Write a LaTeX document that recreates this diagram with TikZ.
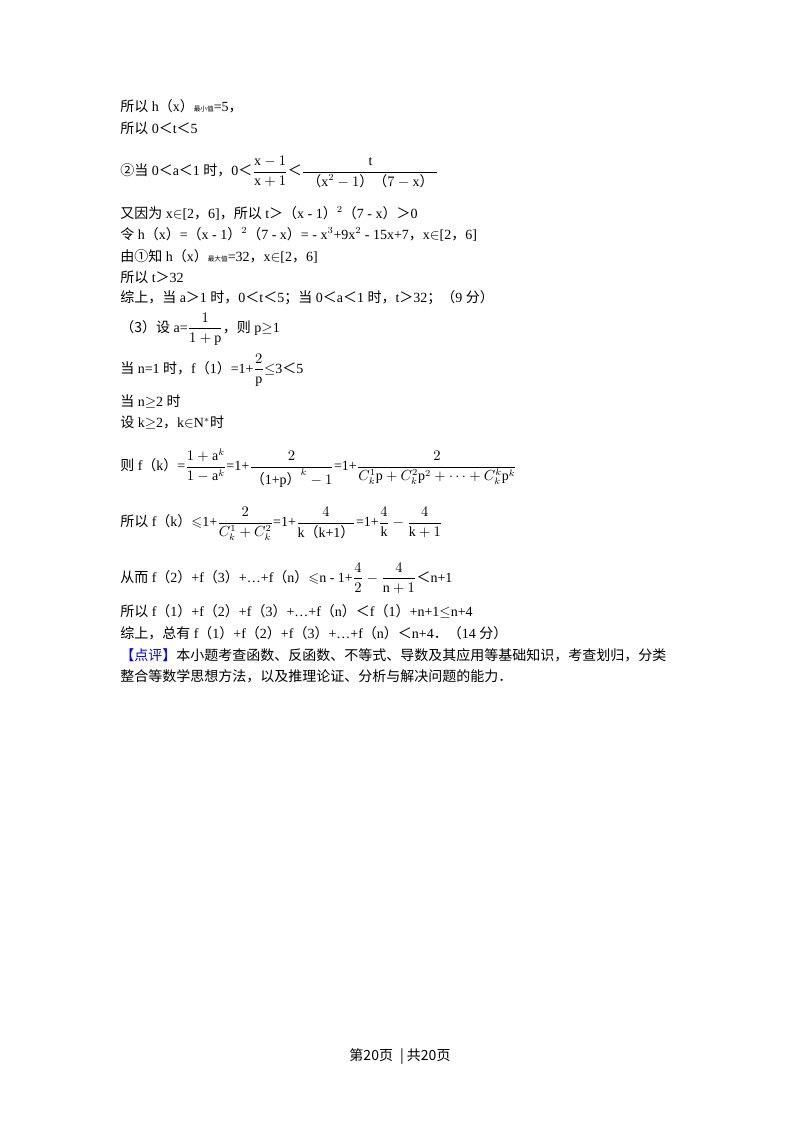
\documentclass[tikz,border=0pt]{standalone}
\usepackage{fontspec}
\usepackage{amsmath,amssymb}
\setmainfont{Liberation Serif}
\newfontfamily\cjk{Noto Sans CJK SC}
\newcommand{\C}[1]{{\cjk #1}}
\newcommand{\Cs}[1]{{\cjk\tiny #1}}
\begin{document}
\begin{tikzpicture}[x=0.75pt,y=-0.75pt,
  ln/.style={anchor=west,inner sep=0pt,font=\fontsize{10.5pt}{12pt}\selectfont}]
\useasboundingbox (0,0) rectangle (800,1132);
\fill[white] (0,0) rectangle (800,1132);
\node[ln] (l1) at (120,106) {\C{所以} h\C{（}x\C{）}\Cs{最小值}=5\C{，}};
\node[ln] (l2) at (120,128) {\C{所以} 0\C{＜}t\C{＜}5};
\node[ln] (l3) at (120,172) {\C{②当} 0\C{＜}a\C{＜}1 \C{时，}0\C{＜}$\dfrac{\mathrm{x}-1}{\mathrm{x}+1}$\C{＜}$\dfrac{\mathrm{t}}{\hbox{\;\C{（}$\mathrm{x}^2-1$\C{）（}$7-\mathrm{x}$\C{）}\;}}$};
\node[ln] (l4) at (120,213) {\C{又因为} x$\in$[2\C{，}6]\C{，所以} t\C{＞（}x - 1\C{）}$^2$\C{（}7 - x\C{）＞}0};
\node[ln] (l5) at (120,234) {\C{令} h\C{（}x\C{）}=\C{（}x - 1\C{）}$^2$\C{（}7 - x\C{）}= - x$^3$+9x$^2$ - 15x+7\C{，}x$\in$[2\C{，}6]};
\node[ln] (l6) at (120,256) {\C{由①知} h\C{（}x\C{）}\Cs{最大值}=32\C{，}x$\in$[2\C{，}6]};
\node[ln] (l7) at (120,277) {\C{所以} t\C{＞}32};
\node[ln] (l8) at (120,298) {\C{综上，当} a\C{＞}1 \C{时，}0\C{＜}t\C{＜}5\C{；当} 0\C{＜}a\C{＜}1 \C{时，}t\C{＞}32\C{；（}9 \C{分）}};
\node[ln] (l9) at (120,329) {\C{（3）设} a=$\dfrac{1}{1+\mathrm{p}}$\C{，则} p$\geq$1};
\node[ln] (l10) at (120,370) {\C{当} n=1 \C{时，}f\C{（}1\C{）}=1+$\dfrac{2}{\mathrm{p}}$$\leq$3\C{＜}5};
\node[ln] (l11) at (120,402) {\C{当} n$\geq$2 \C{时}};
\node[ln] (l12) at (120,423) {\C{设} k$\geq$2\C{，}k$\in$N$^*$\C{时}};
\node[ln] (l13) at (120,468) {\C{则} f\C{（}k\C{）}=$\dfrac{1+\mathrm{a}^k}{1-\mathrm{a}^k}$=1+$\dfrac{2}{\hbox{\C{（}1+p\C{）}}^{k}-1}$=1+$\dfrac{2}{C_k^1\mathrm{p}+C_k^2\mathrm{p}^2+\cdots+C_k^k\mathrm{p}^k}$};
\node[ln] (l14) at (120,524) {\C{所以} f\C{（}k\C{）}$\leqslant$1+$\dfrac{2}{C_k^1+C_k^2}$=1+$\dfrac{4}{\hbox{k\C{（}k+1\C{）}}}$=1+$\dfrac{4}{\mathrm{k}}-\dfrac{4}{\mathrm{k}+1}$};
\node[ln] (l15) at (120,578) {\C{从而} f\C{（}2\C{）}+f\C{（}3\C{）}+…+f\C{（}n\C{）}$\leqslant$n - 1+$\dfrac{4}{2}-\dfrac{4}{\mathrm{n}+1}$\C{＜}n+1};
\node[ln] (l16) at (120,611) {\C{所以} f\C{（}1\C{）}+f\C{（}2\C{）}+f\C{（}3\C{）}+…+f\C{（}n\C{）＜}f\C{（}1\C{）}+n+1$\leq$n+4};
\node[ln] (l17) at (120,633) {\C{综上，总有} f\C{（}1\C{）}+f\C{（}2\C{）}+f\C{（}3\C{）}+…+f\C{（}n\C{）＜}n+4\C{．（}14 \C{分）}};
\node[ln] (l18) at (120,655) {\textcolor{blue}{\C{【点评】}}\C{本小题考查函数、反函数、不等式、导数及其应用等基础知识，考查划归，分类}};
\node[ln] (l19) at (120,676) {\C{整合等数学思想方法，以及推理论证、分析与解决问题的能力．}};
\node[ln,anchor=center] (ft) at (400,1057) {\C{第20页\; | 共20页}};
\end{tikzpicture}
\end{document}
